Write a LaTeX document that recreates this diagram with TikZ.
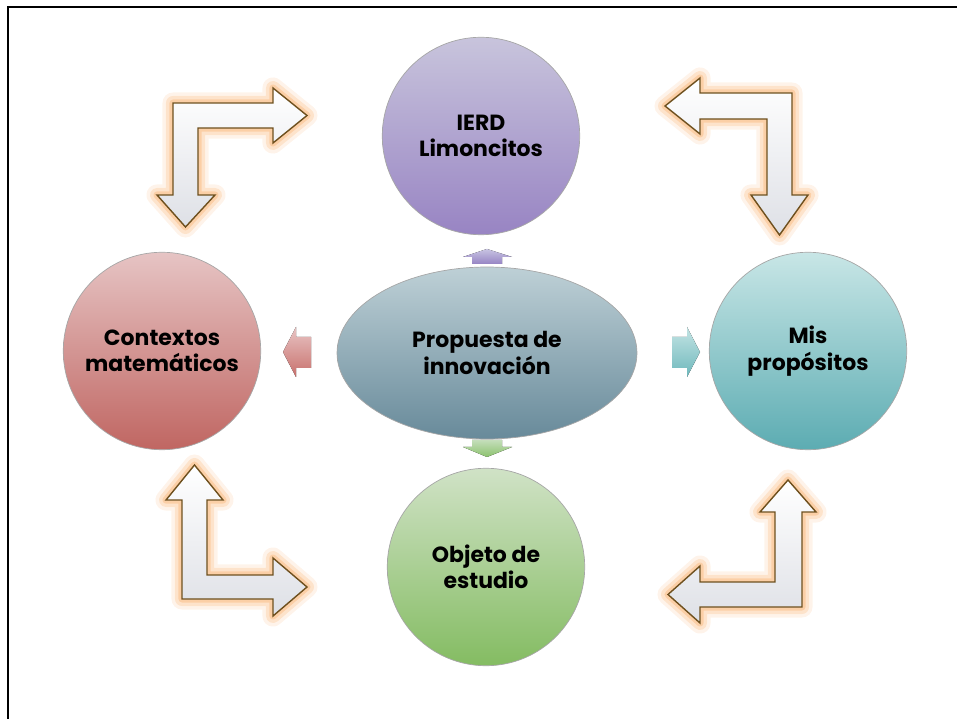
\documentclass[tikz,border=0pt]{standalone}
\usepackage{fontspec}
\setmainfont{Poppins}
\usepackage{tikz}
\usetikzlibrary{calc}
\usetikzlibrary{shapes.geometric,positioning}

\definecolor{bentfill}{RGB}{222,224,230}
\definecolor{bentline}{RGB}{110,80,30}
\definecolor{glowcol}{RGB}{248,160,80}

\tikzset{
  topic/.style={circle,draw=gray!70,minimum size=3.95cm,align=center,font=\bfseries\fontsize{12.5}{15}\selectfont},
  bentarrow/.style={draw=bentline,line width=0.8pt,line join=miter,top color=white,bottom color=bentfill,
    preaction={draw=glowcol,opacity=0.12,line width=12pt,line join=round},
    preaction={draw=glowcol,opacity=0.2,line width=8pt,line join=round},
    preaction={draw=glowcol,opacity=0.3,line width=4pt,line join=round}}
}

\begin{document}
\begin{tikzpicture}[x=0.02cm,y=-0.02cm]
      \useasboundingbox (0,0) rectangle (957,719);
      \draw[line width=1.7pt] (8,719) -- (8,7) -- (957,7);
      \draw[bentarrow] (173,195) -- (157,195) -- (185.5,227) -- (215,195) -- (198,195) -- (198,128) -- (273,128) -- (273,143) -- (307,115.5) -- (273,88) -- (273,103) -- (173,103) -- cycle;
      \draw[bentarrow] (792,93) -- (700,93) -- (700,78) -- (665,106) -- (700,134) -- (700,119) -- (767,119) -- (767,195) -- (751,195) -- (779.5,235) -- (808,195) -- (792,195) -- cycle;
      \draw[bentarrow] (182,599) -- (182,500) -- (166,500) -- (194.5,465) -- (223,500) -- (207,500) -- (207,575) -- (273,575) -- (273,558) -- (307,587) -- (273,616) -- (273,599) -- cycle;
      \draw[bentarrow] (802,607) -- (700,607) -- (700,623) -- (668,594.5) -- (700,566) -- (700,582) -- (775,582) -- (775,512) -- (760,512) -- (788,480) -- (816,512) -- (802,512) -- cycle;
      \node[topic,top color={rgb,255:red,200;green,196;blue,220},bottom color={rgb,255:red,152;green,132;blue,195}] (ierd) at (481,136) {IERD\\Limoncitos};
      \node[topic,top color={rgb,255:red,230;green,196;blue,196},bottom color={rgb,255:red,192;green,102;blue,98}] (ctx) at (162,351) {Contextos\\matemáticos};
      \node[topic,top color={rgb,255:red,200;green,230;blue,230},bottom color={rgb,255:red,92;green,172;blue,178}] (prop) at (808,351) {Mis\\propósitos};
      \node[topic,top color={rgb,255:red,208;green,226;blue,198},bottom color={rgb,255:red,132;green,188;blue,98}] (obj) at (486,567) {Objeto de\\estudio};
      \node[ellipse,draw=gray!70,minimum width=6cm,minimum height=3.44cm,align=center,font=\bfseries\fontsize{12.5}{15}\selectfont,top color={rgb,255:red,190;green,208;blue,214},bottom color={rgb,255:red,104;green,138;blue,154}] (inno) at (487,353) {Propuesta de\\innovación};
      \fill[top color={rgb,255:red,200;green,196;blue,226},bottom color={rgb,255:red,150;green,132;blue,196}] (472,264) -- (472,257) -- (463,257) -- (487,249) -- (512,257) -- (502,257) -- (502,264) -- cycle;
      \fill[top color={rgb,255:red,196;green,222;blue,186},bottom color={rgb,255:red,140;green,194;blue,110}] (472,440) -- (502,440) -- (502,447) -- (512,447) -- (487,457) -- (463,447) -- (472,447) -- cycle;
      \fill[top color={rgb,255:red,232;green,196;blue,196},bottom color={rgb,255:red,200;green,112;blue,108}] (311,337) -- (296,337) -- (296,327) -- (283,352) -- (296,377) -- (296,368) -- (311,368) -- cycle;
      \fill[top color={rgb,255:red,196;green,228;blue,228},bottom color={rgb,255:red,110;green,184;blue,188}] (672,337) -- (687,337) -- (687,327) -- (700,352) -- (687,377) -- (687,368) -- (672,368) -- cycle;
    \end{tikzpicture}
\end{document}
